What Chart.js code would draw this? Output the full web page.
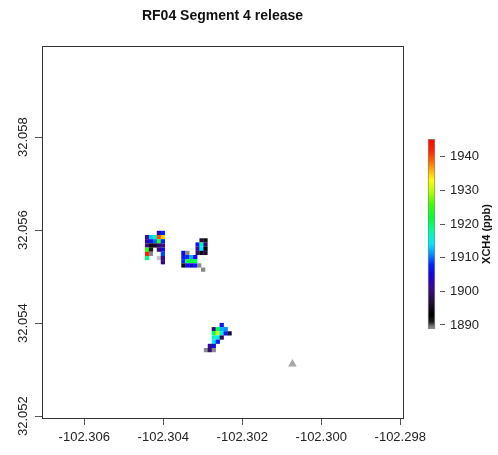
<!DOCTYPE html>
<html><head><meta charset="utf-8">
<script src="https://cdn.jsdelivr.net/npm/chart.js@4"></script>
<style>
html,body{margin:0;padding:0;background:#fff;}
#wrap{position:relative;width:498px;height:455px;overflow:hidden;}
#main{position:absolute;left:0;top:0;}
#cbar{position:absolute;left:405px;top:0;}
</style></head><body>
<div id="wrap">
<canvas id="main" width="498" height="455"></canvas>
<canvas id="cbar" width="93" height="455"></canvas>
</div>
<script>
// ---------- data ----------
const chartTitle = 'RF04 Segment 4 release';
const colorbarTitle = 'XCH4 (ppb)';
const xTicks = [-102.306, -102.304, -102.302, -102.300, -102.298];
const yTicks = [32.052, 32.054, 32.056, 32.058];
const cbTicks = [1890, 1900, 1910, 1920, 1930, 1940];
const xRange = [-102.30707, -102.29793];
const yRange = [32.05196, 32.05996];
const cbRange = [1888.8, 1945.3];

// cluster 1
const lon1 = [-102.30411,-102.30401,
 -102.30441,-102.30431,-102.30421,-102.30411,-102.30401,
 -102.30441,-102.30431,-102.30421,-102.30411,-102.30401,
 -102.30441,-102.30431,-102.30421,-102.30411,-102.30401,
 -102.30441,-102.30431,-102.30411,-102.30401,
 -102.30441,-102.30431,-102.30401,
 -102.30441,-102.30411,-102.30401,
 -102.30401];
const lat1 = [32.05594,32.05594,
 32.05585,32.05585,32.05585,32.05585,32.05585,
 32.05576,32.05576,32.05576,32.05576,32.05576,
 32.05567,32.05567,32.05567,32.05567,32.05567,
 32.05558,32.05558,32.05558,32.05558,
 32.05549,32.05549,32.05549,
 32.05540,32.05540,32.05540,
 32.05531];
const xch1 = [1903,1908,
 1901,1913,1916,1940,1935,
 1902,1907,1910,1924,1908,
 1901,1892,1896,1899,1901,
 1925,1891,1900,1906,
 1942,1889,1909,
 1919,1886,1901,
 1900];

// cluster 2
const lon2 = [-102.30303,-102.30293,
 -102.30313,-102.30303,-102.30293,
 -102.30313,-102.30303,-102.30293,
 -102.30349,-102.30339,-102.30313,-102.30303,-102.30293,
 -102.30349,-102.30339,-102.30329,-102.30319,
 -102.30349,-102.30339,-102.30329,-102.30319,
 -102.30349,-102.30339,-102.30329,-102.30319,-102.30309,
 -102.30299];
const lat2 = [32.05578,32.05578,
 32.05569,32.05569,32.05569,
 32.05560,32.05560,32.05560,
 32.05551,32.05551,32.05551,32.05551,32.05551,
 32.05542,32.05542,32.05542,32.05542,
 32.05533,32.05533,32.05533,32.05533,
 32.05524,32.05524,32.05524,32.05524,32.05524,
 32.05515];
const xch2 = [1897,1892,
 1906,1916,1899,
 1902,1914,1893,
 1906,1889,1900,1892,1897,
 1907,1908,1912,1906,
 1908,1921,1922,1921,
 1892,1906,1905,1907,1889,
 1889];

// cluster 3
const lon3 = [-102.30252,
 -102.30272,-102.30262,-102.30252,-102.30242,
 -102.30272,-102.30262,-102.30252,-102.30242,-102.30232,
 -102.30272,-102.30262,-102.30252,
 -102.30272,-102.30262,
 -102.30282,-102.30272,
 -102.30292,-102.30282,-102.30272];
const lat3 = [32.05396,
 32.05387,32.05387,32.05387,32.05387,
 32.05378,32.05378,32.05378,32.05378,32.05378,
 32.05369,32.05369,32.05369,
 32.05360,32.05360,
 32.05351,32.05351,
 32.05342,32.05342,32.05342];
const xch3 = [1907,
 1900,1921,1912,1911,
 1920,1930,1915,1907,1896,
 1917,1914,1898,
 1914,1907,
 1901,1906,
 1889,1900,1889];

// release location
const releaseLon = [-102.30073];
const releaseLat = [32.05312];

// ---------- styles ----------
const FONT = '"Liberation Sans", Arial, Helvetica, sans-serif';
const cmapStops = [
 [1885, '#d6d6d6'],
 [1888, '#a4a4a4'],
 [1889.5, '#7c7c7c'],
 [1891, '#1c1c1c'],
 [1893, '#000000'],
 [1897, '#22103a'],
 [1901, '#3a0a8c'],
 [1905, '#1a00e0'],
 [1908, '#0024ff'],
 [1911, '#0090ff'],
 [1914, '#00e6ff'],
 [1918, '#00ffa0'],
 [1922, '#00ff30'],
 [1926, '#40ff00'],
 [1930, '#c0ff00'],
 [1933, '#ffff00'],
 [1936, '#ffb000'],
 [1939, '#ff6000'],
 [1942, '#ff2000'],
 [1946, '#ff0000']
];
function hex2rgb(h){return [parseInt(h.substr(1,2),16),parseInt(h.substr(3,2),16),parseInt(h.substr(5,2),16)];}
function colorFor(v){
  if (v <= cmapStops[0][0]) return cmapStops[0][1];
  for (let i=1;i<cmapStops.length;i++){
    if (v <= cmapStops[i][0]){
      const [v0,c0]=cmapStops[i-1],[v1,c1]=cmapStops[i];
      const t=(v-v0)/(v1-v0), a=hex2rgb(c0), b=hex2rgb(c1);
      return 'rgb('+a.map((x,k)=>Math.round(x+(b[k]-x)*t)).join(',')+')';
    }
  }
  return cmapStops[cmapStops.length-1][1];
}

const cellLon = lon1.concat(lon2, lon3);
const cellLat = lat1.concat(lat2, lat3);
const cellXch4 = xch1.concat(xch2, xch3);

const framePlugin = {
  id:'frame',
  afterDraw(chart){
    const {ctx, chartArea:a} = chart;
    ctx.save();
    ctx.strokeStyle='#333'; ctx.lineWidth=1;
    ctx.strokeRect(Math.round(a.left)+0.5, Math.round(a.top)+0.5, Math.round(a.right-a.left), Math.round(a.bottom-a.top));
    // title
    ctx.fillStyle='#111'; ctx.font='bold 14px '+FONT; ctx.textAlign='center'; ctx.textBaseline='middle';
    ctx.fillText(chartTitle, (a.left+a.right)/2, 16);
    // rotated y tick labels
    const ys = chart.scales.y;
    ctx.font='13px '+FONT; ctx.fillStyle='#222';
    ys.ticks.forEach(t=>{
      const py = ys.getPixelForValue(t.value);
      ctx.save(); ctx.translate(23, py); ctx.rotate(-Math.PI/2);
      ctx.fillText(t.value.toFixed(3), 0, 0); ctx.restore();
    });
    ctx.restore();
  }
};

new Chart(document.getElementById('main'), {
  type:'scatter',
  data:{ datasets:[
    { data: cellLon.map((x,i)=>({x, y: cellLat[i]})), pointStyle:'rect', pointRadius:3, pointHoverRadius:3,
      backgroundColor: cellXch4.map(colorFor), borderWidth:0 },
    { data: releaseLon.map((x,i)=>({x, y: releaseLat[i]})), pointStyle:'triangle', pointRadius:5, pointHoverRadius:5,
      backgroundColor:'#a8a8a8', borderWidth:0 }
  ]},
  options:{
    responsive:false, animation:false, events:[],
    layout:{ padding:{ left:0, right:95, top:46, bottom:0 } },
    plugins:{ legend:{display:false}, tooltip:{enabled:false}, title:{display:false} },
    scales:{
      x:{ type:'linear', position:'bottom', min:xRange[0], max:xRange[1],
        afterBuildTicks: s=>{ s.ticks = xTicks.map(v=>({value:v})); },
        afterFit: s=>{ s.height = 37; },
        grid:{ drawOnChartArea:false, drawTicks:true, tickLength:7, tickColor:'#555', lineWidth:1 },
        border:{ display:false },
        ticks:{ font:{family:FONT,size:13}, color:'#222', padding:5, maxRotation:0, minRotation:0, autoSkip:false,
          callback: v=>Number(v).toFixed(3) } },
      y:{ type:'linear', position:'left', min:yRange[0], max:yRange[1],
        afterBuildTicks: s=>{ s.ticks = yTicks.map(v=>({value:v})); },
        afterFit: s=>{ s.width = 42; },
        grid:{ drawOnChartArea:false, drawTicks:true, tickLength:7, tickColor:'#555', lineWidth:1 },
        border:{ display:false },
        ticks:{ display:false } }
    }
  },
  plugins:[framePlugin]
});

const cbTitlePlugin = {
  id:'cbTitle',
  afterDraw(chart){
    const {ctx, chartArea:a} = chart;
    ctx.save();
    ctx.fillStyle='#111'; ctx.font='bold 11px '+FONT; ctx.textAlign='center'; ctx.textBaseline='middle';
    ctx.translate(82, (a.top+a.bottom)/2); ctx.rotate(-Math.PI/2);
    ctx.fillText(colorbarTitle, 0, 0);
    ctx.restore();
  }
};

new Chart(document.getElementById('cbar'), {
  type:'bar',
  data:{ labels:[''], datasets:[{
    data:[[cbRange[0], cbRange[1]]],
    backgroundColor:(c)=>{
      const ch=c.chart; if(!ch.chartArea) return '#888';
      const ys=ch.scales.y;
      const y0=ys.getPixelForValue(cbRange[0]), y1=ys.getPixelForValue(cbRange[1]);
      const g=ch.ctx.createLinearGradient(0,y0,0,y1);
      g.addColorStop(0, colorFor(cbRange[0]));
      cmapStops.forEach(([v,col])=>{ const t=(v-cbRange[0])/(cbRange[1]-cbRange[0]); if(t>0&&t<1) g.addColorStop(t,col); });
      g.addColorStop(1, colorFor(cbRange[1]));
      return g;
    },
    borderColor:'#8a8a8a', borderWidth:1, borderSkipped:false, barThickness:7 }]},
  options:{
    responsive:false, animation:false, events:[],
    layout:{ padding:{ left:18, right:0, top:139, bottom:126 } },
    plugins:{ legend:{display:false}, tooltip:{enabled:false} },
    scales:{
      x:{ display:false },
      y:{ type:'linear', position:'right', min:cbRange[0], max:cbRange[1],
        afterBuildTicks: s=>{ s.ticks = cbTicks.map(v=>({value:v})); },
        afterFit: s=>{ s.width = 58; },
        grid:{ drawOnChartArea:false, drawTicks:true, tickLength:5, tickColor:'#555', lineWidth:1 },
        border:{ display:false },
        ticks:{ font:{family:FONT,size:13}, color:'#222', padding:5, callback: v=>String(v) } }
    }
  },
  plugins:[cbTitlePlugin]
});
</script>
</body></html>
